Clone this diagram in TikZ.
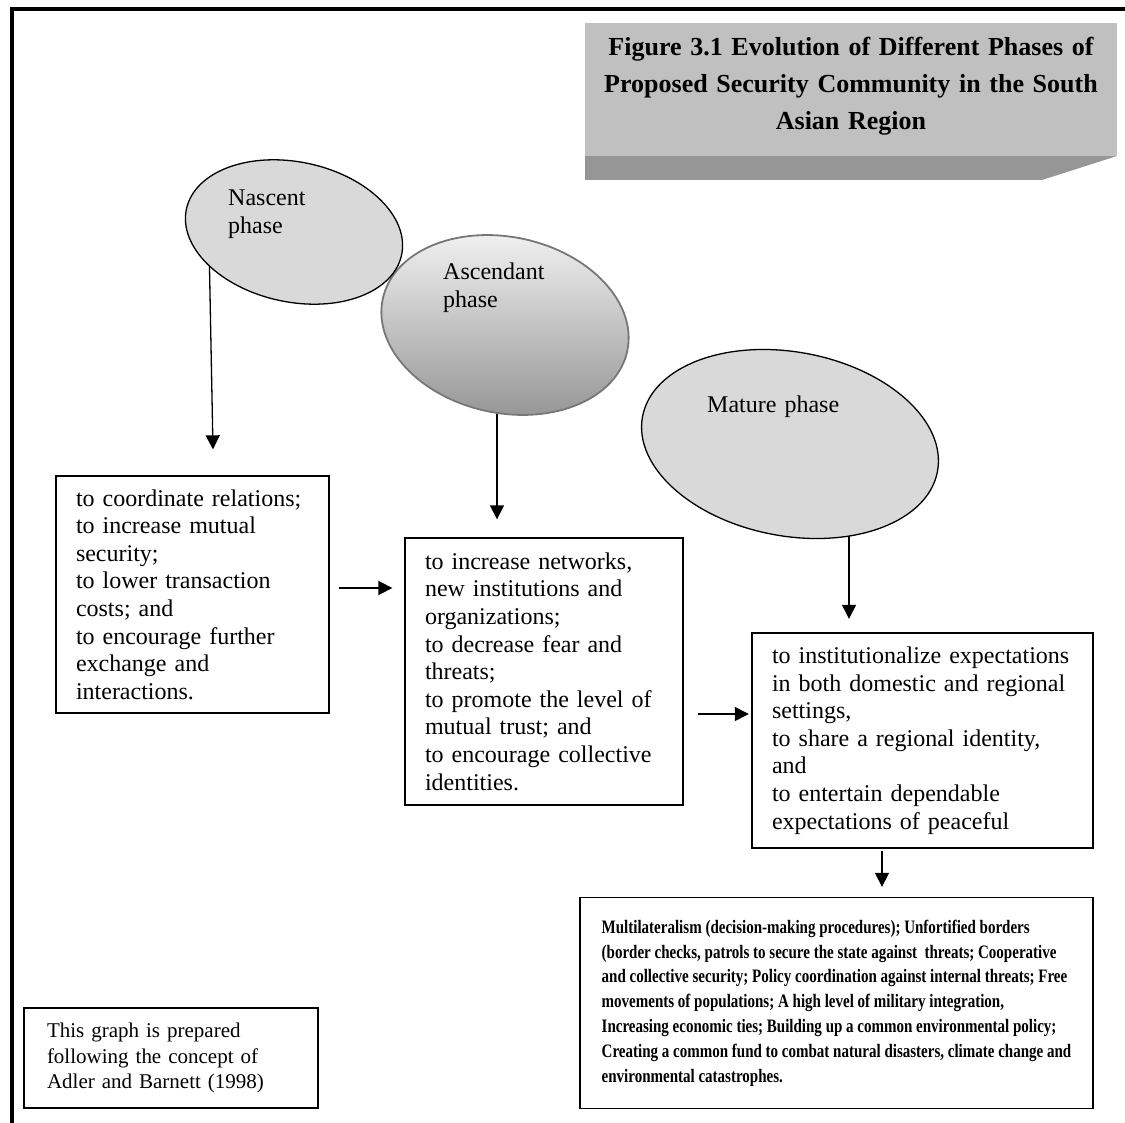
\documentclass[tikz,border=0pt]{standalone}
\usepackage{fontspec}
\setmainfont{Liberation Serif}
\newfontfamily\featfont[FakeStretch=0.79]{Liberation Serif}
\usetikzlibrary{arrows.meta, positioning, calc, shapes.geometric, backgrounds}

\definecolor{ovalgray}{HTML}{D9D9D9}
\definecolor{facegray}{HTML}{C0C0C0}
\definecolor{bevelgray}{HTML}{969696}
\definecolor{rimgray}{HTML}{777777}

\begin{document}
\begin{tikzpicture}[
        x=1pt, y=-1pt,
        >={Triangle[length=14pt, width=14pt]},
        phase/.style  ={ellipse, draw, line width=1.3pt, fill=ovalgray, inner sep=0pt},
        plbl/.style   ={anchor=base west, inner sep=0pt, text width=150pt, align=left,
                        font=\fontsize{24}{28}\selectfont},
        txtbox/.style ={draw, line width=1.3pt, inner xsep=20pt, inner ysep=0pt, align=left,
                        font=\fontsize{24}{27.6}\selectfont},
        arr/.style    ={->, line width=1.3pt}
    ]
    \useasboundingbox (0,0) rectangle (1125,1123);

    %% ---- frame and title block ---------------------------------------
    \draw[line width=4pt] (12,1123) -- (12,9) -- (1125,9);
    \fill[bevelgray] (585,156) -- (1117,156) -- (1042,180) -- (585,180) -- cycle;
    \fill[facegray] (585,23) rectangle (1117,156);
    \node[anchor=base, inner sep=0pt, text width=520pt, align=center,
          font=\bfseries\fontsize{26}{37}\selectfont] (title) at (851,56)
        {Figure 3.1 Evolution of Different Phases of\\
         Proposed Security Community in the South\\
         Asian Region};

    %% ---- the three phases --------------------------------------------
    \node[phase, draw=rimgray, line width=1.8pt, top color=black!4, bottom color=black!40,
          minimum width=250pt, minimum height=176pt, rotate=-12] (ascendant) at (505,325) {};
    \node[phase, minimum width=220pt, minimum height=140pt, rotate=-12] (nascent) at (294,232) {};
    \node[phase, minimum width=300pt, minimum height=184pt, rotate=-10.5] (mature) at (790,444) {};

    \node[plbl] (nascentlbl)   at (228,206) {Nascent\\phase};
    \node[plbl] (ascendantlbl) at (443,280) {Ascendant\\phase};
    \node[plbl] (maturelbl)    at (707,412) {Mature phase};

    %% ---- what each phase does ----------------------------------------
    \node[txtbox, minimum width=273pt, minimum height=237pt, text width=233pt]
        (coord) at (192.5,594.5)
        {to coordinate relations;\\ to increase mutual\\ security;\\ to lower transaction\\
         costs; and\\ to encourage further\\ exchange and\\ interactions.};
    \node[txtbox, minimum width=278pt, minimum height=267pt, text width=238pt]
        (network) at (544,671.5)
        {to increase networks,\\ new institutions and\\ organizations;\\ to decrease fear and\\
         threats;\\ to promote the level of\\ mutual trust; and\\ to encourage collective\\
         identities.};
    \node[txtbox, line width=2.4pt, minimum width=341pt, minimum height=215pt, text width=301pt]
        (institution) at (922.5,740.5)
        {to institutionalize expectations\\ in both domestic and regional\\ settings,\\
         to share a regional identity,\\ and\\ to entertain dependable\\ expectations of peaceful};
    \node[txtbox, inner xsep=18pt, minimum width=513pt, minimum height=211pt,
          font=\featfont\bfseries\fontsize{19}{24.8}\selectfont]
        (features) at (836.5,1003)
        {Multilateralism (decision-making procedures); Unfortified borders\\
         (border checks, patrols to secure the state against\ \ threats; Cooperative\\
         and collective security; Policy coordination against internal threats; Free\\
         movements of populations; A high level of military integration,\\
         Increasing economic ties; Building up a common environmental policy;\\
         Creating a common fund to combat natural disasters, climate change and\\
         environmental catastrophes.};
    \node[txtbox, inner xsep=23pt, minimum width=294pt, minimum height=100pt, text width=248pt,
          font=\fontsize{21}{25.5}\selectfont]
        (source) at (171,1058)
        {This graph is prepared\\ following the concept of\\ Adler and Barnett (1998)};

    %% ---- connectors ----------------------------------------------------
    \begin{scope}[on background layer]
        \draw[arr] ($(nascent.center)+(-85,10)$) -- ($(coord.north)+(20.5,-26)$);
        \draw[arr] ($(ascendant.center)+(-8,60)$) -- ($(network.north)+(-47,-18)$);
        \draw[arr] ($(mature.center)+(59,60)$) -- ($(institution.north)+(-73.5,-13)$);
        \draw[arr] ($(coord.east)+(9,-6.5)$) -- ($(network.west)+(-12,-83.5)$);
        \draw[arr] ($(network.east)+(14,42.5)$) -- ($(institution.west)+(-2,-26.5)$);
        \draw[arr] ($(institution.south)+(-40.5,2)$) -- ($(features.north)+(45.5,-10)$);
    \end{scope}
\end{tikzpicture}
\end{document}
